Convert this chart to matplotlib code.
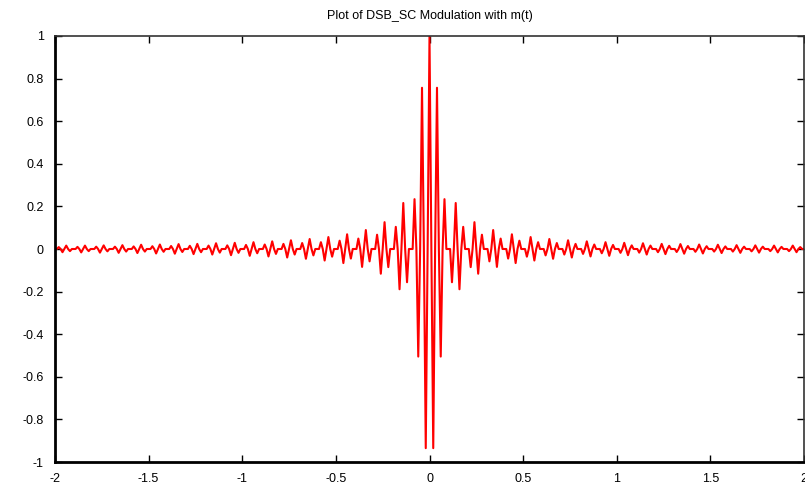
import numpy as np
import matplotlib
matplotlib.use('Agg')
import matplotlib.pyplot as plt

plt.rcParams['font.family'] = ['Liberation Sans', 'DejaVu Sans']

# ---- datos: muestras de la señal DSB-SC, t de -2 a 2 cada 0.01
t_inicio = -2.0
t_paso = 0.01

senal = [
    # t = -2.00 ... -0.01
    0, 0, 0.009, 0, -0.015, 0, 0.016, 0, -0.010, 0,
    0, 0, 0.010, 0, -0.016, 0, 0.016, 0, -0.010, 0,
    0, 0, 0.011, 0, -0.017, 0, 0.017, 0, -0.011, 0,
    0, 0, 0.011, 0, -0.018, 0, 0.018, 0, -0.012, 0,
    0, 0, 0.012, 0, -0.019, 0, 0.020, 0, -0.012, 0,
    0, 0, 0.013, 0, -0.021, 0, 0.021, 0, -0.013, 0,
    0, 0, 0.014, 0, -0.022, 0, 0.023, 0, -0.014, 0,
    0, 0, 0.015, 0, -0.024, 0, 0.024, 0, -0.015, 0,
    0, 0, 0.016, 0, -0.026, 0, 0.027, 0, -0.017, 0,
    0, 0, 0.017, 0, -0.029, 0, 0.029, 0, -0.018, 0,
    0, 0, 0.019, 0, -0.032, 0, 0.032, 0, -0.020, 0,
    0, 0, 0.021, 0, -0.035, 0, 0.036, 0, -0.023, 0,
    0, 0, 0.024, 0, -0.040, 0, 0.041, 0, -0.026, 0,
    0, 0, 0.028, 0, -0.046, 0, 0.047, 0, -0.030, 0,
    0, 0, 0.032, 0, -0.054, 0, 0.056, 0, -0.036, 0,
    0, 0, 0.039, 0, -0.066, 0, 0.069, 0, -0.045, 0,
    0, 0, 0.049, 0, -0.084, 0, 0.089, 0, -0.058, 0,
    0, 0, 0.067, 0, -0.116, 0, 0.126, 0, -0.085, 0,
    0, 0, 0.104, 0, -0.189, 0, 0.216, 0, -0.156, 0,
    0, 0, 0.234, 0, -0.505, 0, 0.757, 0, -0.935, 0,
    # t = 0.00 ... 1.99
    1, 0, -0.935, 0, 0.757, 0, -0.505, 0, 0.234, 0,
    0, 0, -0.156, 0, 0.216, 0, -0.189, 0, 0.104, 0,
    0, 0, -0.085, 0, 0.126, 0, -0.116, 0, 0.067, 0,
    0, 0, -0.058, 0, 0.089, 0, -0.084, 0, 0.049, 0,
    0, 0, -0.045, 0, 0.069, 0, -0.066, 0, 0.039, 0,
    0, 0, -0.036, 0, 0.056, 0, -0.054, 0, 0.032, 0,
    0, 0, -0.030, 0, 0.047, 0, -0.046, 0, 0.028, 0,
    0, 0, -0.026, 0, 0.041, 0, -0.040, 0, 0.024, 0,
    0, 0, -0.023, 0, 0.036, 0, -0.035, 0, 0.021, 0,
    0, 0, -0.020, 0, 0.032, 0, -0.032, 0, 0.019, 0,
    0, 0, -0.018, 0, 0.029, 0, -0.029, 0, 0.017, 0,
    0, 0, -0.017, 0, 0.027, 0, -0.026, 0, 0.016, 0,
    0, 0, -0.015, 0, 0.024, 0, -0.024, 0, 0.015, 0,
    0, 0, -0.014, 0, 0.023, 0, -0.022, 0, 0.014, 0,
    0, 0, -0.013, 0, 0.021, 0, -0.021, 0, 0.013, 0,
    0, 0, -0.012, 0, 0.020, 0, -0.019, 0, 0.012, 0,
    0, 0, -0.012, 0, 0.018, 0, -0.018, 0, 0.011, 0,
    0, 0, -0.011, 0, 0.017, 0, -0.017, 0, 0.011, 0,
    0, 0, -0.010, 0, 0.016, 0, -0.016, 0, 0.010, 0,
    0, 0, -0.010, 0, 0.016, 0, -0.015, 0, 0.009, 0,
    # t = 2.00
    0,
]

xticks = [-2, -1.5, -1, -0.5, 0, 0.5, 1, 1.5, 2]
xtick_labels = ['-2', '-1.5', '-1', '-0.5', '0', '0.5', '1', '1.5', '2']
yticks = [-1, -0.8, -0.6, -0.4, -0.2, 0, 0.2, 0.4, 0.6, 0.8, 1]
ytick_labels = ['-1', '-0.8', '-0.6', '-0.4', '-0.2', '0', '0.2', '0.4', '0.6', '0.8', '1']

titulo = 'Plot of DSB_SC Modulation with m(t)'

t = np.round(t_inicio + t_paso * np.arange(len(senal)), 2)

# ---- grafico
fig = plt.figure(figsize=(8.05, 4.86), dpi=100)
ax = fig.add_axes([55 / 805, 24 / 486, 749 / 805, 426 / 486])

ax.plot(t, senal, color='red', linewidth=1.5)

ax.set_xlim(-2, 2)
ax.set_ylim(-1, 1)
ax.set_xticks(xticks)
ax.set_xticklabels(xtick_labels)
ax.set_yticks(yticks)
ax.set_yticklabels(ytick_labels)

ax.tick_params(direction='in', length=5, width=1, top=True, right=True,
               labelsize=9, pad=8)

for lado in ['left', 'bottom']:
    ax.spines[lado].set_linewidth(2)
for lado in ['top', 'right']:
    ax.spines[lado].set_linewidth(1.2)
    ax.spines[lado].set_color('#333333')

ax.set_title(titulo, fontsize=9, pad=12)

fig.savefig('out.png', dpi=100)
